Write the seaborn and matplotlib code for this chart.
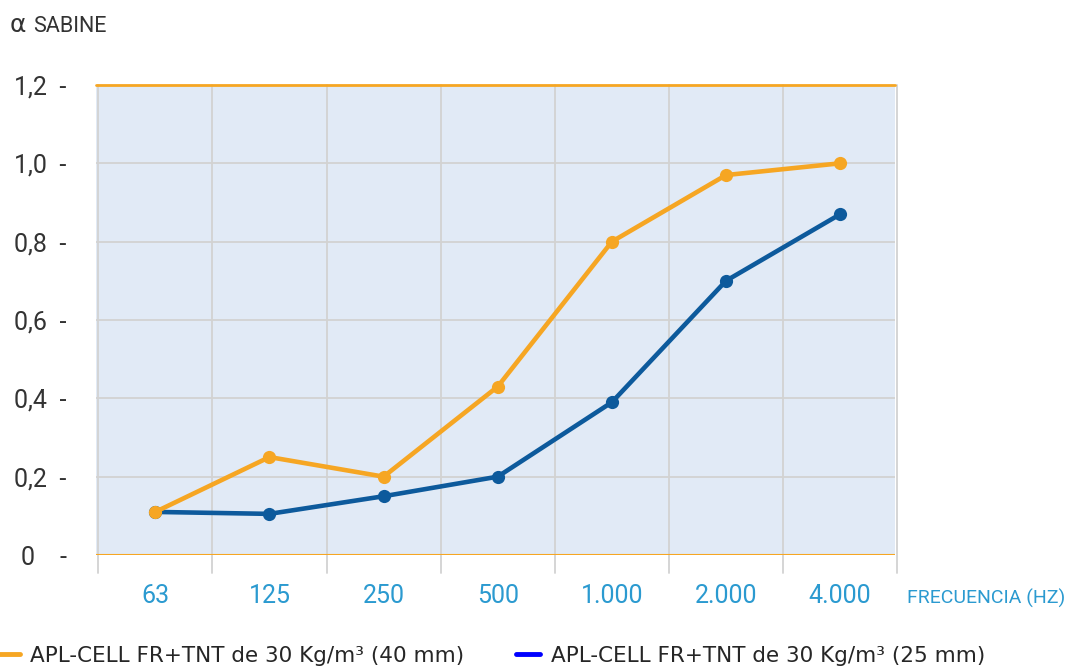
import numpy as np
import pandas as pd
import matplotlib
matplotlib.use("Agg")
import matplotlib.pyplot as plt
import seaborn as sns
from matplotlib.lines import Line2D

# data
frequencies = ["63", "125", "250", "500", "1.000", "2.000", "4.000"]
alpha_40mm = [0.11, 0.25, 0.20, 0.43, 0.80, 0.97, 1.00]
alpha_25mm = [0.11, 0.105, 0.15, 0.20, 0.39, 0.70, 0.87]
y_ticks = [0, 0.2, 0.4, 0.6, 0.8, 1.0, 1.2]
y_tick_labels = ["0    -", "0,2  -", "0,4  -", "0,6  -", "0,8  -", "1,0  -", "1,2  -"]
label_40 = "APL-CELL FR+TNT de 30 Kg/m\u00b3 (40 mm)"
label_25 = "APL-CELL FR+TNT de 30 Kg/m\u00b3 (25 mm)"

ORANGE = "#f6a623"
BLUE = "#0d5a9c"
LEGEND_BLUE = "#0000ff"
BG = "#e1eaf6"
GRID = "#d2d2d2"
TICK_BLUE = "#2b9ad0"
DARK = "#333333"

sns.set_style("white")
plt.rcParams["font.family"] = ["DejaVu Sans"]

df = pd.DataFrame({
    "pos": list(range(len(frequencies))) * 2,
    "alpha": alpha_25mm + alpha_40mm,
    "serie": ["25"] * len(frequencies) + ["40"] * len(frequencies),
})

fig = plt.figure(figsize=(10.7, 6.69), dpi=100)
ax = fig.add_axes([0.0897, 0.1704, 0.7467, 0.7026])
ax.set_facecolor(BG)

# blue first so the orange marker at 63 sits on top
sns.lineplot(data=df[df.serie == "25"], x="pos", y="alpha", color=BLUE,
             linewidth=3.3, marker="o", markersize=9.5, markeredgewidth=0,
             ax=ax, zorder=3)
sns.lineplot(data=df[df.serie == "40"], x="pos", y="alpha", color=ORANGE,
             linewidth=3.3, marker="o", markersize=9.5, markeredgewidth=0,
             ax=ax, zorder=4)

n = len(frequencies)
ax.set_xlim(-0.52, n - 0.52)
ax.set_ylim(0, 1.2)

# grid, vertical lines run a little below the plot
for b in np.arange(-0.5, n, 1.0):
    ax.plot([b, b], [-0.045, 1.2], color=GRID, lw=1.3, clip_on=False, zorder=1)
for t in y_ticks[1:-1]:
    ax.axhline(t, color=GRID, lw=1.3, zorder=1)
ax.axhline(0, color=ORANGE, lw=1.5, zorder=2)
ax.axhline(1.2, color=ORANGE, lw=2.0, zorder=2, clip_on=False)

for s in ax.spines.values():
    s.set_visible(False)

ax.set_xticks(range(n))
ax.set_xticklabels(frequencies, color=TICK_BLUE, fontsize=18, family="Roboto")
ax.set_yticks(y_ticks)
ax.set_yticklabels(y_tick_labels, color=DARK, fontsize=18, family="Roboto")
ax.tick_params(axis="both", length=0)
ax.tick_params(axis="x", pad=21)
ax.tick_params(axis="y", pad=21)
ax.set_xlabel("")
ax.set_ylabel("")

fig.text(0.009, 0.963, "\u03b1", fontsize=18, color=DARK, va="center")
fig.text(0.031, 0.961, "SABINE", fontsize=15.5, color=DARK, va="center",
         family="Roboto")
fig.text(0.848, 0.105, "FRECUENCIA (HZ)", fontsize=14, color=TICK_BLUE,
         va="center", family="Roboto")

handles = [Line2D([0], [0], color=ORANGE, lw=3.5),
           Line2D([0], [0], color=LEGEND_BLUE, lw=3.5)]
fig.legend(handles, [label_40, label_25], loc="lower left", ncol=2,
           bbox_to_anchor=(-0.022, -0.024), frameon=False, fontsize=15.5,
           handlelength=1.1, handletextpad=0.5, columnspacing=2.4)

fig.savefig("out.png", dpi=100)
